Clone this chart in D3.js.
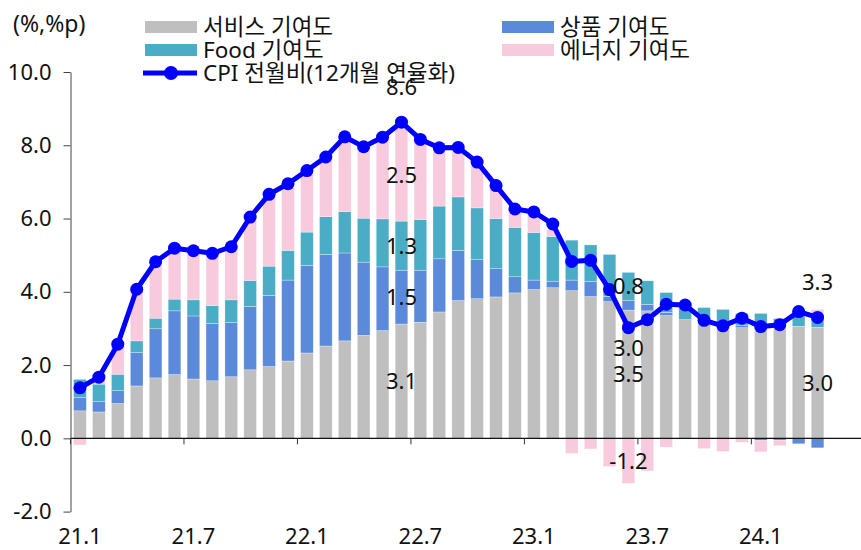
<!DOCTYPE html>
<html><head><meta charset="utf-8">
<script src="https://cdn.jsdelivr.net/npm/d3@7"></script>
<style>
body{margin:0;background:#fff}
svg{display:block}
text{font-family:"Noto Sans","Noto Sans CJK KR",sans-serif;fill:#111}
</style>
</head><body><svg id="c" width="861" height="550"></svg>
<script>
const months = ["21.1","21.2","21.3","21.4","21.5","21.6","21.7","21.8","21.9","21.10","21.11","21.12",
"22.1","22.2","22.3","22.4","22.5","22.6","22.7","22.8","22.9","22.10","22.11","22.12",
"23.1","23.2","23.3","23.4","23.5","23.6","23.7","23.8","23.9","23.10","23.11","23.12",
"24.1","24.2","24.3","24.4"];
const services = [0.75,0.72,0.95,1.43,1.65,1.74,1.62,1.57,1.68,1.87,1.96,2.11,2.33,2.52,2.66,2.81,2.94,3.12,3.17,3.45,3.76,3.81,3.86,3.97,4.06,4.11,4.03,3.87,3.73,3.5,3.48,3.35,3.24,3.25,3.13,3.02,3.0,3.2,3.06,3.03];
const goods = [0.36,0.28,0.35,0.91,1.34,1.74,1.72,1.57,1.48,1.73,1.94,2.21,2.39,2.5,2.4,2.0,1.74,1.47,1.42,1.45,1.37,1.08,0.77,0.44,0.26,0.18,0.29,0.41,0.14,0.27,0.18,0.09,0.0,0.0,0.0,0.07,-0.06,-0.05,-0.15,-0.26];
const food = [0.5,0.48,0.45,0.32,0.29,0.32,0.44,0.48,0.62,0.71,0.8,0.81,0.91,1.03,1.13,1.2,1.31,1.34,1.38,1.44,1.46,1.4,1.37,1.35,1.3,1.22,1.09,1.0,1.15,0.76,0.64,0.54,0.38,0.32,0.39,0.32,0.41,0.07,0.39,0.34];
const energy = [-0.18,0.12,0.8,1.39,1.5,1.45,1.41,1.52,1.45,1.65,1.9,1.74,1.6,1.56,1.97,1.92,2.12,2.53,2.14,1.55,1.25,1.28,0.93,0.53,0.53,0.19,-0.41,-0.29,-0.77,-1.23,-0.89,-0.24,-0.02,-0.28,-0.36,-0.11,-0.31,-0.15,0.0,0.15];
const cpi = [1.38,1.67,2.57,4.07,4.82,5.19,5.12,5.05,5.23,6.04,6.66,6.95,7.31,7.68,8.23,7.96,8.22,8.63,8.16,7.93,7.94,7.54,6.9,6.26,6.18,5.85,4.83,4.86,4.06,3.02,3.24,3.66,3.64,3.22,3.07,3.28,3.05,3.1,3.46,3.3];

const yTicks = [-2,0,2,4,6,8,10];
const xTickLabels = ["21.1","21.7","22.1","22.7","23.1","23.7","24.1"];
const seriesKeys = ["services","goods","food","energy"];
const seriesNames = ["서비스 기여도","상품 기여도","Food 기여도","에너지 기여도"];
const lineName = "CPI 전월비(12개월 연율화)";
const unitLabel = "(%,%p)";
// annotated points: month, series (or cpi with side)
const annotations = [
  {month:"22.6", key:"services"},{month:"22.6", key:"goods"},{month:"22.6", key:"food"},{month:"22.6", key:"energy"},{month:"22.6", key:"cpi", side:"above"},
  {month:"23.6", key:"services"},{month:"23.6", key:"food"},{month:"23.6", key:"energy"},{month:"23.6", key:"cpi", side:"below"},
  {month:"24.4", key:"services"},{month:"24.4", key:"cpi", side:"above"}
];

const colors = {services:"#BFBFBF", goods:"#5B8ADB", food:"#4BACC6", energy:"#F7CBDD"};
const lineColor = "#0000FF";

const svg = d3.select("#c");
const W = 861;
const left = 70.5, right = 827;
const x = d3.scaleBand().domain(months).range([left, right]).paddingInner(0.33).paddingOuter(0.165);
const xb = d3.scaleLinear().domain([0, months.length]).range([left, right]);
const y = d3.scaleLinear().domain([-2, 10]).range([511.6, 72]);

const table = months.map((m, i) => ({month: m, services: services[i], goods: goods[i], food: food[i], energy: energy[i]}));
const stacked = d3.stack().keys(seriesKeys).offset(d3.stackOffsetDiverging)(table);

// bars
svg.append("g").selectAll("g").data(stacked).join("g")
  .attr("fill", s => colors[s.key])
  .selectAll("rect").data(s => s).join("rect")
  .attr("x", d => x(d.data.month))
  .attr("width", x.bandwidth())
  .attr("y", d => y(Math.max(d[0], d[1])))
  .attr("height", d => Math.abs(y(d[0]) - y(d[1])))
  .attr("stroke", "#fff").attr("stroke-width", 0.5).attr("stroke-opacity", 0.6);

// x axis line at zero
svg.append("line").attr("x1", left).attr("x2", W).attr("y1", y(0)).attr("y2", y(0))
  .attr("stroke", "#111").attr("stroke-width", 1.2);
// x tick marks at category boundaries
svg.append("g").selectAll("line").data(xTickLabels).join("line")
  .attr("x1", d => xb(months.indexOf(d))).attr("x2", d => xb(months.indexOf(d)))
  .attr("y1", y(0)).attr("y2", y(0) + 6).attr("stroke", "#333").attr("stroke-width", 1);

// x labels at the bottom
const gx = svg.append("g").attr("transform", `translate(0,${y(-2)})`)
  .call(d3.axisBottom(x).tickValues(xTickLabels).tickSize(0).tickPadding(17));
gx.select(".domain").remove();
gx.selectAll("text").attr("font-size", 22).attr("font-family", '"Noto Sans",sans-serif').attr("fill", "#111");

// y axis
const gy = svg.append("g").attr("transform", `translate(${left},0)`)
  .call(d3.axisLeft(y).tickValues(yTicks).tickSize(7).tickSizeOuter(0).tickPadding(12).tickFormat(d => d.toFixed(1)));
gy.select(".domain").attr("stroke", "#444");
gy.selectAll(".tick line").attr("stroke", "#444");
gy.selectAll("text").attr("font-size", 22).attr("font-family", '"Noto Sans",sans-serif').attr("fill", "#111");

// CPI line
const cx = i => x(months[i]) + x.bandwidth() / 2;
svg.append("path").datum(cpi)
  .attr("fill", "none").attr("stroke", lineColor).attr("stroke-width", 5).attr("stroke-linejoin", "round")
  .attr("d", d3.line().x((d, i) => cx(i)).y(d => y(d)));
svg.append("g").selectAll("circle").data(cpi).join("circle")
  .attr("cx", (d, i) => cx(i)).attr("cy", d => y(d)).attr("r", 6.5).attr("fill", lineColor);

// annotations
const ann = svg.append("g").attr("font-size", 22).attr("text-anchor", "middle");
annotations.forEach(a => {
  const i = months.indexOf(a.month);
  let val, yy;
  if (a.key === "cpi") {
    val = cpi[i];
    yy = a.side === "above" ? y(val) - 35 : y(val) + 20;
  } else {
    const seg = stacked.find(s => s.key === a.key)[i];
    val = seg.data[a.key];
    yy = (y(seg[0]) + y(seg[1])) / 2;
  }
  ann.append("text").attr("x", cx(i)).attr("y", yy).attr("dy", "0.36em").attr("fill", "#000").text(val.toFixed(1));
});

// legend
const leg = svg.append("g").attr("font-size", 22.5);
const legPos = [[145, 27], [502, 27], [145, 50], [502, 50]];
seriesKeys.forEach((k, j) => {
  const [lx, ly] = legPos[j];
  leg.append("rect").attr("x", lx).attr("y", ly - 6).attr("width", 52).attr("height", 12).attr("fill", colors[k]);
  leg.append("text").attr("x", lx + 58).attr("y", ly).attr("dy", "0.35em").text(seriesNames[j]);
});
leg.append("line").attr("x1", 143).attr("x2", 197).attr("y1", 73).attr("y2", 73).attr("stroke", lineColor).attr("stroke-width", 5);
leg.append("circle").attr("cx", 171).attr("cy", 73).attr("r", 7).attr("fill", lineColor);
leg.append("text").attr("x", 203).attr("y", 73).attr("dy", "0.35em").text(lineName);

svg.append("text").attr("x", 13).attr("y", 24).attr("dy", "0.35em").attr("font-size", 23).text(unitLabel);
</script>
</body></html>
